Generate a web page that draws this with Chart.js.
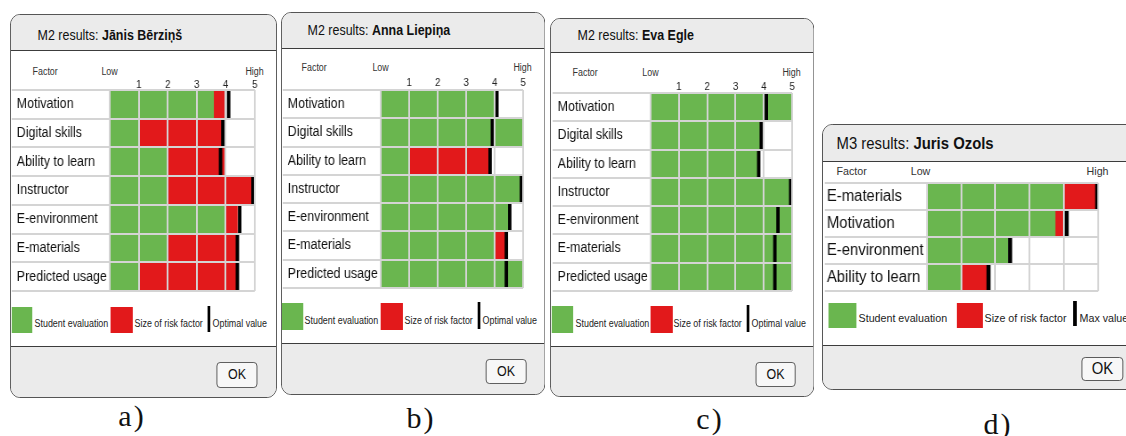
<!DOCTYPE html>
<html>
<head>
<meta charset="utf-8">
<script src="https://cdn.jsdelivr.net/npm/chart.js@4/dist/chart.umd.min.js"></script>
<style>
html,body{margin:0;padding:0;background:#fff;}
body{width:1126px;height:436px;overflow:hidden;position:relative;font-family:"Liberation Sans",Arial,sans-serif;}
.dlg{position:absolute;box-sizing:border-box;border:1.5px solid #4a4a4a;border-radius:11px;background:#fff;overflow:hidden;transform-origin:0 0;}
.hdr{position:absolute;left:0;right:0;top:0;background:#ebebeb;border-bottom:1.5px solid #3c3c3c;box-sizing:border-box;}
.ftr{position:absolute;left:0;right:0;bottom:0;background:#ebebeb;border-top:1.5px solid #3c3c3c;box-sizing:border-box;}
.txt{position:absolute;white-space:nowrap;color:#111;}
.ok{position:absolute;box-sizing:border-box;border:1.3px solid #555;border-radius:4px;background:#f7f7f7;text-align:center;color:#111;}
.sw{position:absolute;}
.cap{position:absolute;font-family:"Liberation Serif","Times New Roman",serif;font-size:30px;line-height:30px;color:#111;letter-spacing:2px;transform:translateX(-50%);}
canvas{position:absolute;left:0;top:0;}
</style>
</head>
<body>
<script>
// ---- data ----
const factorsM2 = ['Motivation', 'Digital skills', 'Ability to learn', 'Instructor', 'E-environment', 'E-materials', 'Predicted usage'];
const factorsM3 = ['E-materials', 'Motivation', 'E-environment', 'Ability to learn'];
const scoreTicks = [1, 2, 3, 4, 5];

// Jānis Bērziņš (M2)
const evalA = [3.6, 1.0, 2.0, 2.0, 4.0, 2.0, 1.0];
const riskA = [0.4, 2.9, 1.97, 2.92, 0.4, 2.4, 3.4];
const optA  = [4.1, 3.9, 3.82, 4.94, 4.48, 4.4, 4.4];

// Anna Liepiņa (M2)
const evalB = [4.0, 5.0, 1.0, 5.0, 4.53, 4.03, 5.0];
const riskB = [0, 0, 2.85, 0, 0, 0.37, 0];
const optB  = [4.08, 3.92, 3.84, 4.94, 4.53, 4.41, 4.41];

// Eva Egle (M2)
const evalC = [5.0, 3.93, 3.85, 5.0, 5.0, 5.0, 5.0];
const riskC = [0, 0, 0, 0, 0, 0, 0];
const optC  = [4.09, 3.91, 3.82, 4.95, 4.5, 4.39, 4.39];

// Juris Ozols (M3)
const evalD = [4.0, 3.76, 2.36, 1.0];
const riskD = [0.95, 0.22, 0, 0.75];
const optD  = [4.97, 4.08, 2.43, 1.8];

const legendM2 = ['Student evaluation', 'Size of risk factor', 'Optimal value'];
const legendM3 = ['Student evaluation', 'Size of risk factor', 'Max value'];

// ---- style ----
const GREEN = '#6ab64f', RED = '#e2191b', GRID = '#d4d4d4', BLACK = '#000';
const MARK_HALF = 0.05;   // half width of the optimal-value marker, in score units
Chart.defaults.font.family = "'Liberation Sans', Arial, sans-serif";

const panels = [
  {L:10, T:14, W:267, H:384, s:0.89, hdrB:50, ftrT:347,
   title:{x:38, cy:35, size:14, head:'M2 results:', name:'Jānis Bērziņš'},
   colL:12, x0:110, x5:255, rowTop:90, rowBot:291, topH:22, showTicks:true, tickPad:0,
   head:{cy:72, size:10, factorX:33, lowDx:0},
   rows:{size:14, padL:5},
   legend:{y0:307, y1:333, size:10, green:[12,33,35], red:[111,133,135], mark:[208,211,213,306,332], texts:legendM2},
   ok:[217,258,362,388,14], cap:{cx:132, cy:416, text:'a)'},
   factors:factorsM2, ev:evalA, risk:riskA, opt:optA},
  {L:281, T:12, W:264, H:383, s:0.89, hdrB:48, ftrT:344,
   title:{x:308, cy:30, size:14, head:'M2 results:', name:'Anna Liepiņa'},
   colL:283, x0:381, x5:523, rowTop:90, rowBot:288, topH:22, showTicks:true, tickPad:1.5,
   head:{cy:68, size:10, factorX:302, lowDx:0},
   rows:{size:14, padL:5},
   legend:{y0:303, y1:330, size:10, green:[282,304,305], red:[381,403,405], mark:[478,481,483,302,329], texts:legendM2},
   ok:[486,527,359,384,14], cap:{cx:421, cy:418, text:'b)'},
   factors:factorsM2, ev:evalB, risk:riskB, opt:optB},
  {L:550, T:18, W:264, H:379, s:0.89, hdrB:52, ftrT:347,
   title:{x:578, cy:35, size:14, head:'M2 results:', name:'Eva Egle'},
   colL:553, x0:651, x5:792, rowTop:93, rowBot:291, topH:22, showTicks:true, tickPad:0.5,
   head:{cy:73, size:10, factorX:573, lowDx:0},
   rows:{size:14, padL:5},
   legend:{y0:306, y1:333, size:10, green:[552,574,576], red:[651,673,674], mark:[747,750,752,305,332], texts:legendM2},
   ok:[756,796,362,387,14], cap:{cx:710, cy:419, text:'c)'},
   factors:factorsM2, ev:evalC, risk:riskC, opt:optC},
  {L:822, T:124, W:320, H:266, s:0.93, hdrB:161, ftrT:346,
   title:{x:837, cy:144, size:16, head:'M3 results:', name:'Juris Ozols'},
   colL:825, x0:927, x5:1098, rowTop:183, rowBot:291, topH:3, showTicks:false, tickPad:0,
   head:{cy:172, size:11.5, factorX:837, lowDx:-6},
   rows:{size:16, padL:2},
   legend:{y0:303, y1:328, size:11.5, green:[829,857,859], red:[957,983,985], mark:[1074,1077,1080,301,326], texts:legendM3},
   ok:[1082,1124,357,381,16], cap:{cx:998, cy:424, text:'d)'},
   factors:factorsM3, ev:evalD, risk:riskD, opt:optD}
];

function el(tag, cls, parent, css, html) {
  const e = document.createElement(tag);
  if (cls) e.className = cls;
  if (css) Object.assign(e.style, css);
  if (html !== undefined) e.innerHTML = html;
  parent.appendChild(e);
  return e;
}

function build(p) {
  const s = p.s, B = 1.5;
  const X = x => (x - p.L) / s - B;
  const Y = y => y - p.T - B;

  const dlg = el('div', 'dlg', document.body, {
    left: p.L + 'px', top: p.T + 'px', width: (p.W / s) + 'px', height: p.H + 'px',
    transform: `scaleX(${s})`
  });
  el('div', 'hdr', dlg, {height: (Y(p.hdrB) + 1) + 'px'});
  el('div', 'ftr', dlg, {top: (Y(p.ftrT) - 0.75) + 'px'});

  // title
  const t = p.title;
  el('div', 'txt', dlg, {left: X(t.x) + 'px', top: (Y(t.cy) - t.size / 2) + 'px',
    fontSize: t.size + 'px', lineHeight: t.size + 'px'},
    t.head + ' <b>' + t.name + '</b>');

  // column headings
  const h = p.head;
  const hcss = {top: (Y(h.cy) - h.size / 2) + 'px', fontSize: h.size + 'px', lineHeight: h.size + 'px', color: '#333'};
  el('div', 'txt', dlg, Object.assign({left: X(h.factorX) + 'px'}, hcss), 'Factor');
  el('div', 'txt', dlg, Object.assign({left: X(p.x0 + h.lowDx) + 'px', transform: 'translateX(-50%)'}, hcss), 'Low');
  el('div', 'txt', dlg, Object.assign({left: X(p.x5) + 'px', transform: 'translateX(-50%)'}, hcss), 'High');

  // chart
  const labW = (p.x0 - p.colL) / s;
  const padL = p.rows.padL / s;
  const cw = Math.round((p.x5 - p.colL) / s + 4);
  const ch = p.topH + (p.rowBot - p.rowTop) + 3;
  const box = el('div', null, dlg, {position: 'absolute', left: X(p.colL) + 'px', top: (Y(p.rowTop) - p.topH) + 'px',
    width: cw + 'px', height: ch + 'px'});
  const cv = el('canvas', null, box);
  cv.width = cw; cv.height = ch;

  new Chart(cv, {
    type: 'bar',
    data: {
      labels: p.factors,
      datasets: [
        {label: p.legend.texts[2], data: p.opt.map(m => [m - MARK_HALF, m + MARK_HALF]),
         backgroundColor: BLACK, order: 0},
        {label: p.legend.texts[1], data: p.ev.map((v, i) => p.risk[i] > 0 ? [v, v + p.risk[i]] : null),
         backgroundColor: RED, order: 1},
        {label: p.legend.texts[0], data: p.ev, backgroundColor: GREEN, order: 2}
      ]
    },
    options: {
      indexAxis: 'y',
      responsive: false,
      animation: false,
      events: [],
      layout: {padding: {left: padL, right: 4, top: 0, bottom: 3}},
      datasets: {bar: {grouped: false, barPercentage: 1, categoryPercentage: 1, borderWidth: 0}},
      plugins: {legend: {display: false}, tooltip: {enabled: false}},
      scales: {
        x: {
          position: 'top', min: 0, max: 5,
          afterFit: sc => { sc.height = p.topH; sc.paddingLeft = 0; sc.paddingRight = 0; },
          border: {display: false},
          grid: {color: GRID, lineWidth: 2, drawTicks: false, z: 1},
          ticks: {display: p.showTicks, stepSize: 1, autoSkip: false, padding: p.tickPad,
                  color: '#222', font: {size: 11, lineHeight: 1},
                  callback: v => scoreTicks.includes(v) ? String(v) : ''}
        },
        y: {
          afterFit: sc => { sc.width = labW - padL; sc.paddingTop = 0; sc.paddingBottom = 0; },
          border: {display: false},
          offset: true,
          grid: {offset: true, color: GRID, lineWidth: 2, tickColor: GRID, tickWidth: 2,
                 tickLength: labW, drawTicks: true, z: 1},
          ticks: {crossAlign: 'far', color: '#111', font: {size: p.rows.size}, autoSkip: false}
        }
      }
    }
  });

  // legend
  const lg = p.legend;
  const tcss = (x) => ({left: X(x) + 'px', top: (Y(lg.y1) - 9 - lg.size / 2) + 'px',
    fontSize: lg.size + 'px', lineHeight: lg.size + 'px', color: '#222'});
  el('div', 'sw', dlg, {left: X(lg.green[0]) + 'px', top: Y(lg.y0) + 'px',
    width: ((lg.green[1] - lg.green[0]) / s) + 'px', height: (lg.y1 - lg.y0) + 'px', background: GREEN});
  el('div', 'txt', dlg, tcss(lg.green[2]), lg.texts[0]);
  el('div', 'sw', dlg, {left: X(lg.red[0]) + 'px', top: Y(lg.y0) + 'px',
    width: ((lg.red[1] - lg.red[0]) / s) + 'px', height: (lg.y1 - lg.y0) + 'px', background: RED});
  el('div', 'txt', dlg, tcss(lg.red[2]), lg.texts[1]);
  el('div', 'sw', dlg, {left: X(lg.mark[0]) + 'px', top: Y(lg.mark[3]) + 'px',
    width: ((lg.mark[1] - lg.mark[0]) / s) + 'px', height: (lg.mark[4] - lg.mark[3]) + 'px', background: BLACK});
  el('div', 'txt', dlg, tcss(lg.mark[2]), lg.texts[2]);

  // OK button
  const o = p.ok;
  el('div', 'ok', dlg, {left: X(o[0]) + 'px', top: Y(o[2]) + 'px', width: ((o[1] - o[0]) / s) + 'px',
    height: (o[3] - o[2]) + 'px', fontSize: o[4] + 'px', lineHeight: (o[3] - o[2] - 2.6) + 'px'}, 'OK');

  // caption under the dialog
  el('div', 'cap', document.body, {left: p.cap.cx + 'px', top: (p.cap.cy - 15) + 'px'}, p.cap.text);
}

panels.forEach(build);
</script>
</body>
</html>
